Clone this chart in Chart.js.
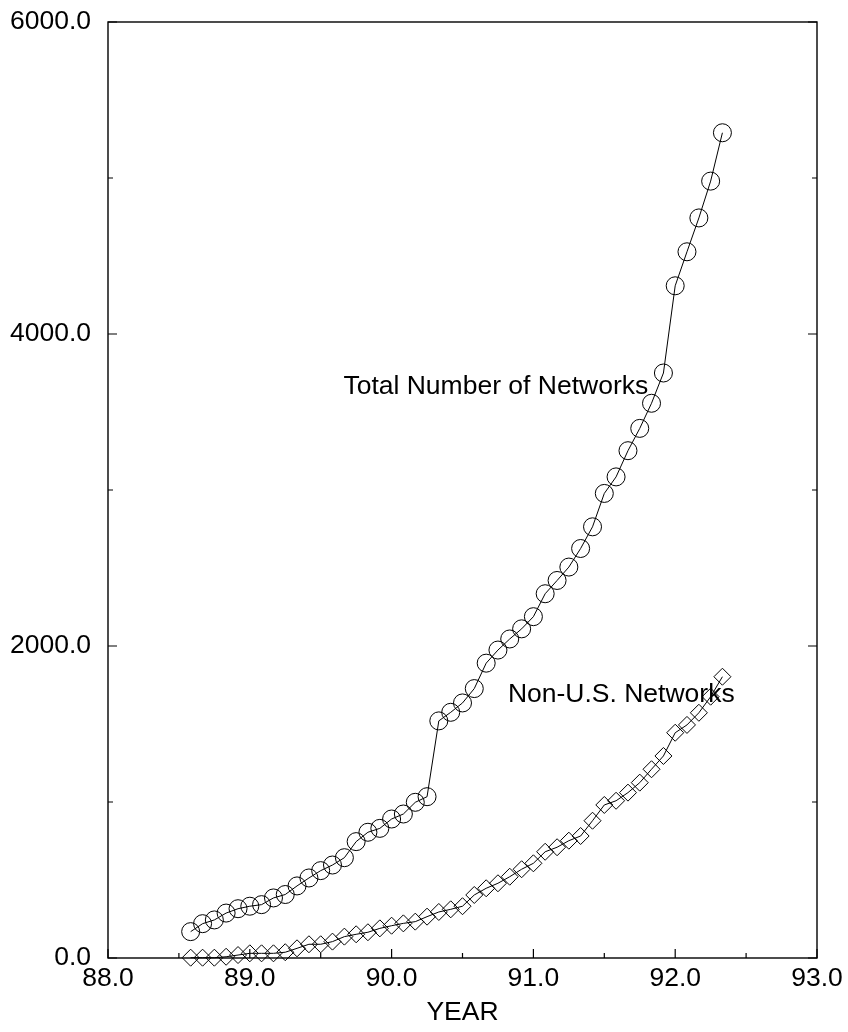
<!DOCTYPE html>
<html>
<head>
<meta charset="utf-8">
<title>NSFNET Networks</title>
<script src="https://cdn.jsdelivr.net/npm/chart.js@4/dist/chart.umd.min.js"></script>
<style>
  html, body { margin: 0; padding: 0; background: #fff; }
  #wrap { width: 848px; height: 1032px; }
</style>
</head>
<body>
<div id="wrap"><canvas id="chart" width="848" height="1032"></canvas></div>
<script>
// Monthly samples, expressed as decimal years (88.583 = Aug 1988)
const years = [
  88.583, 88.667, 88.750, 88.833, 88.917, 89.000, 89.083, 89.167, 89.250, 89.333,
  89.417, 89.500, 89.583, 89.667, 89.750, 89.833, 89.917, 90.000, 90.083, 90.167,
  90.250, 90.333, 90.417, 90.500, 90.583, 90.667, 90.750, 90.833, 90.917, 91.000,
  91.083, 91.167, 91.250, 91.333, 91.417, 91.500, 91.583, 91.667, 91.750, 91.833,
  91.917, 92.000, 92.083, 92.167, 92.250, 92.333
];

// Total number of networks
const totalNetworks = [
  169, 220, 244, 288, 316, 332, 342, 385, 407, 462,
  513, 560, 596, 643, 746, 806, 831, 891, 923, 998,
  1034, 1520, 1575, 1635, 1727, 1890, 1974, 2045, 2110, 2188,
  2335, 2420, 2506, 2625, 2764, 2978, 3084, 3252, 3395, 3556,
  3750, 4309, 4527, 4744, 4980, 5290
];

// Networks outside the U.S.
const nonUSNetworks = [
  2, 2, 2, 8, 19, 30, 30, 30, 37, 62,
  88, 88, 105, 137, 152, 165, 190, 207, 222, 233,
  265, 295, 312, 332, 404, 447, 479, 521, 569, 607,
  681, 710, 752, 782, 880, 981, 1008, 1060, 1124, 1210,
  1295, 1444, 1494, 1572, 1675, 1803
];

// Axis ticks
const xMajorTicks = [88, 89, 90, 91, 92, 93];
const xMinorTicks = [88.5, 89.5, 90.5, 91.5, 92.5];
const yMajorTicks = [0, 2000, 4000, 6000];
const yMinorTicks = [1000, 3000, 5000];

// In-plot series captions, anchored in data coordinates
const seriesCaptions = [
  { text: 'Total Number of Networks', x: 89.66, y: 3660 },
  { text: 'Non-U.S. Networks', x: 90.82, y: 1688 }
];

const FONT = '"Liberation Sans", Arial, Helvetica, sans-serif';
const FONT_SIZE = 26.5;

const framePlugin = {
  id: 'frameAndTicks',
  afterDatasetsDraw(chart) {
    const { ctx, chartArea: a, scales: { x, y } } = chart;
    ctx.save();
    ctx.strokeStyle = '#000';
    ctx.lineWidth = 1.4;
    ctx.strokeRect(a.left, a.top, a.right - a.left, a.bottom - a.top);

    ctx.lineWidth = 1.2;
    ctx.beginPath();
    const xt = (v, len) => {
      const px = x.getPixelForValue(v);
      ctx.moveTo(px, a.bottom);
      ctx.lineTo(px, a.bottom - len);
    };
    const yt = (v, len) => {
      const py = y.getPixelForValue(v);
      ctx.moveTo(a.left, py);
      ctx.lineTo(a.left + len, py);
      ctx.moveTo(a.right, py);
      ctx.lineTo(a.right - len, py);
    };
    xMajorTicks.forEach(v => xt(v, 9));
    xMinorTicks.forEach(v => xt(v, 5));
    yMajorTicks.forEach(v => yt(v, 9));
    yMinorTicks.forEach(v => yt(v, 5));
    ctx.stroke();

    ctx.fillStyle = '#000';
    ctx.font = FONT_SIZE + 'px ' + FONT;
    ctx.textAlign = 'left';
    ctx.textBaseline = 'middle';
    seriesCaptions.forEach(c => {
      ctx.fillText(c.text, x.getPixelForValue(c.x), y.getPixelForValue(c.y));
    });
    ctx.restore();
  }
};

const toPoints = vals => years.map((yr, i) => ({ x: yr, y: vals[i] }));

new Chart(document.getElementById('chart'), {
  type: 'scatter',
  data: {
    datasets: [
      {
        label: 'Total Number of Networks',
        data: toPoints(totalNetworks),
        showLine: true,
        borderColor: '#000',
        borderWidth: 1,
        tension: 0,
        pointStyle: 'circle',
        pointRadius: 9,
        pointBorderWidth: 1,
        pointBorderColor: '#000',
        pointBackgroundColor: 'rgba(0,0,0,0)',
        clip: false
      },
      {
        label: 'Non-U.S. Networks',
        data: toPoints(nonUSNetworks),
        showLine: true,
        borderColor: '#000',
        borderWidth: 1,
        tension: 0,
        pointStyle: 'rectRot',
        pointRadius: 8.5,
        pointBorderWidth: 1,
        pointBorderColor: '#000',
        pointBackgroundColor: 'rgba(0,0,0,0)',
        clip: false
      }
    ]
  },
  options: {
    responsive: false,
    animation: false,
    events: [],
    devicePixelRatio: 1,
    layout: { padding: { top: 22, right: 31, left: 0, bottom: 0 } },
    plugins: {
      legend: { display: false },
      tooltip: { enabled: false }
    },
    scales: {
      x: {
        type: 'linear',
        min: 88,
        max: 93,
        grid: { display: false, drawTicks: false },
        border: { display: false },
        ticks: {
          stepSize: 1,
          autoSkip: false,
          maxRotation: 0,
          padding: 5,
          color: '#000',
          font: { family: FONT, size: FONT_SIZE },
          callback: v => Number(v).toFixed(1)
        },
        title: {
          display: true,
          text: 'YEAR',
          color: '#000',
          font: { family: FONT, size: FONT_SIZE },
          padding: { top: 0, bottom: 3 }
        },
        afterFit(s) {
          s.height = 74;
          s.paddingLeft = 0;
          s.paddingRight = 0;
        }
      },
      y: {
        type: 'linear',
        min: 0,
        max: 6000,
        grid: { display: false, drawTicks: false },
        border: { display: false },
        ticks: {
          stepSize: 2000,
          padding: 17,
          color: '#000',
          font: { family: FONT, size: FONT_SIZE },
          callback: v => Number(v).toFixed(1)
        },
        afterFit(s) {
          s.width = 108;
          s.paddingTop = 0;
          s.paddingBottom = 0;
        }
      }
    }
  },
  plugins: [framePlugin]
});
</script>
</body>
</html>
